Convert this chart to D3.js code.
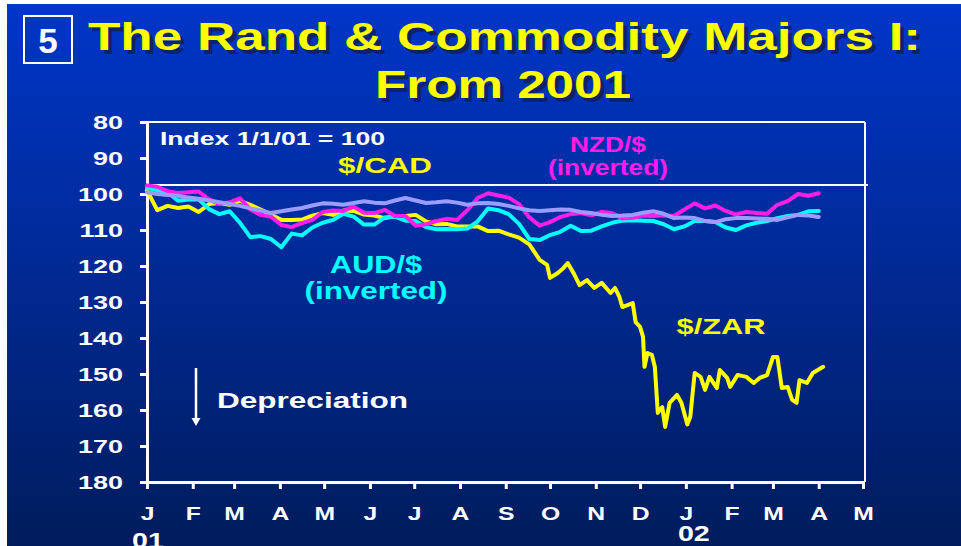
<!DOCTYPE html>
<html>
<head>
<script src="https://d3js.org/d3.v7.min.js"></script>
<style>
  body { margin: 0; background: #fff; }
  text { font-family: "Liberation Sans", Arial, sans-serif; font-weight: bold; }
</style>
</head>
<body>
<script>
const width = 961, height = 546;

// month ticks Jan 01 .. May 02
const monthLabels = ["J","F","M","A","M","J","J","A","S","O","N","D","J","F","M","A","M"];
const yTicks = [80, 90, 100, 110, 120, 130, 140, 150, 160, 170, 180];

// observation days counted from 1 Jan 2001
const start = new Date(2001, 0, 1);
const weekDays = d3.range(66).map(i => 7 * i);

// rand: weekly to mid-Sep, then denser readings
const zarDays = d3.range(38).map(i => 7 * i).concat([
  266, 271, 273, 278, 282, 285, 289, 293, 298, 303,
  308, 314, 317, 320, 322, 329, 331, 334, 336, 337,
  339, 342, 344, 346, 349, 351, 354, 359, 362, 366,
  368, 371, 375, 378, 381, 386, 388, 393, 395, 400,
  406, 411, 415, 420, 424, 427, 430, 434, 437, 440,
  442, 447, 451, 458]);
const zar = [99, 104.5, 103.3, 103.9, 103.5, 105, 102.8, 102.5, 103, 101.9,
  103, 104.3, 105.8, 107.2, 107.2, 107.1, 106, 105.3, 105.8, 104.6,
  104.7, 105.7, 106, 106.7, 106.1, 106.1, 105.8, 107.6, 108.4, 108.3,
  109, 109, 109, 110.3, 110.2, 111.2, 112.1, 114,
  118.3, 119.7, 123.3, 122, 120.6, 119.2, 122, 125.3, 123.9, 126.1,
  124.7, 127.5, 126.1, 128.6, 131.4, 130.3, 135.6, 136.9, 139.7, 148,
  144.2, 144.7, 148, 160.8, 159.2, 164.7, 158, 155.8, 158, 164,
  161.9, 149.7, 150.8, 154.4, 150.8, 153.9, 148.9, 151.1, 153.6, 150.3,
  150.8, 152.5, 151.1, 150.3, 145.3, 145.3, 153.9, 153.6, 157.2, 158,
  151.7, 152.5, 149.7, 148];
const aud = [98.3, 99, 99.5, 101.9, 101.5, 101.5, 104.2, 105.6, 104.8, 108,
  112, 111.7, 112.5, 114.8, 111, 111.5, 109.3, 108, 107.2, 105.5,
  106.3, 108.5, 108.5, 106.5, 106.3, 107.4, 107.5, 109.2, 109.8, 109.7,
  109.8, 109.6, 107.6, 104, 104.5, 105.6, 108.3, 112.5, 112.8, 111.4,
  110.5, 108.8, 110.3, 110.2, 109, 108, 107.4, 107.3, 107.4, 107.5,
  108.4, 109.8, 109, 107.5, 107.5, 107.8, 109.3, 110, 108.7, 108,
  107.5, 106.7, 106.1, 105.8, 104.8, 104.7];
const nzd = [97.6, 98, 99.2, 99.7, 99.5, 99.3, 101.5, 102.8, 102.3, 101.2,
  104.3, 105.8, 106.3, 108.6, 109.2, 108.1, 107.2, 105, 104.6, 104.7,
  103.5, 105.2, 105.3, 104.4, 106.1, 106.1, 108.8, 108.4, 107.5, 106.9,
  107.2, 104.5, 101.1, 99.8, 100.4, 101, 102.8, 106.5, 108.8, 107.8,
  106.4, 105.6, 105.3, 105.9, 105, 105.3, 106.8, 106.6, 106, 106.1,
  105.9, 106.1, 104.3, 102.6, 104, 103.2, 104.7, 105.7, 105, 105.3,
  105.5, 103, 102, 100, 100.5, 99.8];
const cad = [99.5, 100, 100.3, 100.5, 101, 101.3, 101.8, 102.3, 102.8, 103.3,
  104, 104.6, 105.3, 104.8, 104.3, 103.9, 103.2, 102.6, 102.7, 103,
  102.5, 102, 102.4, 102.6, 101.8, 101.1, 101.8, 102.5, 102.3, 102,
  102.4, 103, 102.6, 102.5, 102.8, 103.3, 104, 104.5, 104.7, 104.5,
  104.3, 104.4, 105, 105.3, 105.8, 106.1, 106, 105.8, 105.2, 104.8,
  105.5, 106.7, 106.5, 106.7, 107.5, 107.8, 107, 106.7, 106.7, 106.8,
  106.9, 107.2, 106.5, 105.8, 106, 106.4];

const series = [
  { name: "ZAR", days: zarDays, values: zar, color: "#ffff00" },
  { name: "AUD", days: weekDays, values: aud, color: "#00ffff" },
  { name: "NZD", days: weekDays, values: nzd, color: "#ff1ee8" },
  { name: "CAD", days: weekDays, values: cad, color: "#9a9cff" }
];

const svg = d3.select("body").append("svg")
  .attr("width", width)
  .attr("height", height);

const grad = svg.append("defs").append("linearGradient")
  .attr("id", "bg").attr("x1", 0).attr("y1", 0).attr("x2", 0).attr("y2", 1);
grad.append("stop").attr("offset", "0%").attr("stop-color", "#0036c9");
grad.append("stop").attr("offset", "100%").attr("stop-color", "#001c5c");

svg.append("rect").attr("width", width).attr("height", height).attr("fill", "#fff");
svg.append("rect").attr("x", 7).attr("y", 4)
  .attr("width", width - 7).attr("height", height - 4)
  .attr("fill", "url(#bg)");

// stretch glyphs horizontally (slide was widened)
function stretch(sel, k) {
  sel.each(function () {
    const w = this.getComputedTextLength();
    d3.select(this).attr("textLength", w * k).attr("lengthAdjust", "spacingAndGlyphs");
  });
}
function fitTo(sel, w) {
  sel.attr("textLength", w).attr("lengthAdjust", "spacingAndGlyphs");
}

// title
svg.append("rect").attr("x", 24).attr("y", 16).attr("width", 48).attr("height", 47)
  .attr("fill", "none").attr("stroke", "#fff").attr("stroke-width", 2);
svg.append("text").attr("x", 48).attr("y", 53).attr("text-anchor", "middle")
  .attr("font-size", 35).attr("fill", "#fff").text("5");

const titleLines = [
  { text: "The Rand & Commodity Majors I:", x: 88, y: 50, w: 833 },
  { text: "From 2001", x: 375, y: 98, w: 256 }
];
titleLines.forEach(t => {
  fitTo(svg.append("text").attr("x", t.x + 4).attr("y", t.y + 4)
    .attr("font-size", 39).attr("fill", "#0f2266").text(t.text), t.w);
  fitTo(svg.append("text").attr("x", t.x).attr("y", t.y)
    .attr("font-size", 39).attr("fill", "#ffff00").text(t.text), t.w);
});

// scales
const x = d3.scaleTime()
  .domain([new Date(2001, 0, 1), new Date(2002, 4, 1)])
  .range([147, 863]);
const y = d3.scaleLinear().domain([80, 180]).range([122, 482]);

// frame
svg.append("line").attr("x1", 147).attr("x2", 865).attr("y1", y(80)).attr("y2", y(80))
  .attr("stroke", "#fff").attr("stroke-width", 2);
svg.append("line").attr("x1", 865).attr("x2", 865).attr("y1", y(80)).attr("y2", y(180))
  .attr("stroke", "#fff").attr("stroke-width", 2);
svg.append("line").attr("x1", 147).attr("x2", 868).attr("y1", y(97.5)).attr("y2", y(97.5))
  .attr("stroke", "#fff").attr("stroke-width", 2);

// y axis
const yAxis = svg.append("g").attr("transform", "translate(147,0)")
  .call(d3.axisLeft(y).tickValues(yTicks).tickSize(7).tickPadding(17));
yAxis.select(".domain").attr("stroke", "#fff").attr("stroke-width", 3);
yAxis.selectAll(".tick line").attr("stroke", "#fff").attr("stroke-width", 3);
yAxis.selectAll(".tick text").attr("fill", "#fff").attr("font-size", 18)
  .attr("font-family", null).attr("dy", "0.36em");
stretch(yAxis.selectAll(".tick text"), 1.5);

// x axis
const months = d3.timeMonth.range(new Date(2001, 0, 1), new Date(2002, 4, 2));
const xAxis = svg.append("g").attr("transform", `translate(0,${y(180)})`)
  .call(d3.axisBottom(x).tickValues(months).tickSize(7).tickPadding(18)
    .tickFormat((d, i) => monthLabels[i]));
xAxis.select(".domain").attr("stroke", "#fff").attr("stroke-width", 3);
xAxis.selectAll(".tick line").attr("stroke", "#fff").attr("stroke-width", 3);
xAxis.selectAll(".tick text").attr("fill", "#fff").attr("font-size", 19)
  .attr("font-family", null);
stretch(xAxis.selectAll(".tick text"), 1.3);

const yearLabels = [
  { text: "01", date: new Date(2001, 0, 1), dx: 1, y: 548 },
  { text: "02", date: new Date(2002, 0, 1), dx: 8, y: 541 }
];
yearLabels.forEach(l => {
  stretch(svg.append("text").attr("x", x(l.date) + l.dx).attr("y", l.y)
    .attr("text-anchor", "middle").attr("font-size", 22).attr("fill", "#fff").text(l.text), 1.3);
});

// series lines
const line = d3.line();
svg.append("g").selectAll("path").data(series).join("path")
  .attr("d", s => line(s.values.map((v, i) => [x(d3.timeDay.offset(start, s.days[i])), y(v)])))
  .attr("fill", "none")
  .attr("stroke", s => s.color)
  .attr("stroke-width", 4)
  .attr("stroke-linejoin", "round")
  .attr("stroke-linecap", "round");

// annotations
const notes = [
  { text: "Index 1/1/01 = 100", x: 160, y: 145, size: 18, w: 225, anchor: "start", color: "#fff" },
  { text: "$/CAD", x: 385, y: 173, size: 22, w: 94, anchor: "middle", color: "#ffff00" },
  { text: "NZD/$", x: 608, y: 152, size: 22, w: 76, anchor: "middle", color: "#ff1ee8" },
  { text: "(inverted)", x: 608, y: 175, size: 22, w: 120, anchor: "middle", color: "#ff1ee8" },
  { text: "AUD/$", x: 376, y: 273, size: 24, w: 92, anchor: "middle", color: "#00ffff" },
  { text: "(inverted)", x: 376, y: 299, size: 24, w: 143, anchor: "middle", color: "#00ffff" },
  { text: "$/ZAR", x: 721, y: 334, size: 22, w: 89, anchor: "middle", color: "#ffff00" },
  { text: "Depreciation", x: 217, y: 408, size: 22, w: 191, anchor: "start", color: "#fff" }
];
notes.forEach(n => {
  fitTo(svg.append("text").attr("x", n.x).attr("y", n.y).attr("text-anchor", n.anchor)
    .attr("font-size", n.size).attr("fill", n.color).text(n.text), n.w);
});

// depreciation arrow
svg.append("line").attr("x1", 196).attr("x2", 196).attr("y1", 368).attr("y2", 419)
  .attr("stroke", "#fff").attr("stroke-width", 2.5);
svg.append("path").attr("d", "M191.5,418 L200.5,418 L196,426 Z").attr("fill", "#fff");
</script>
</body>
</html>
